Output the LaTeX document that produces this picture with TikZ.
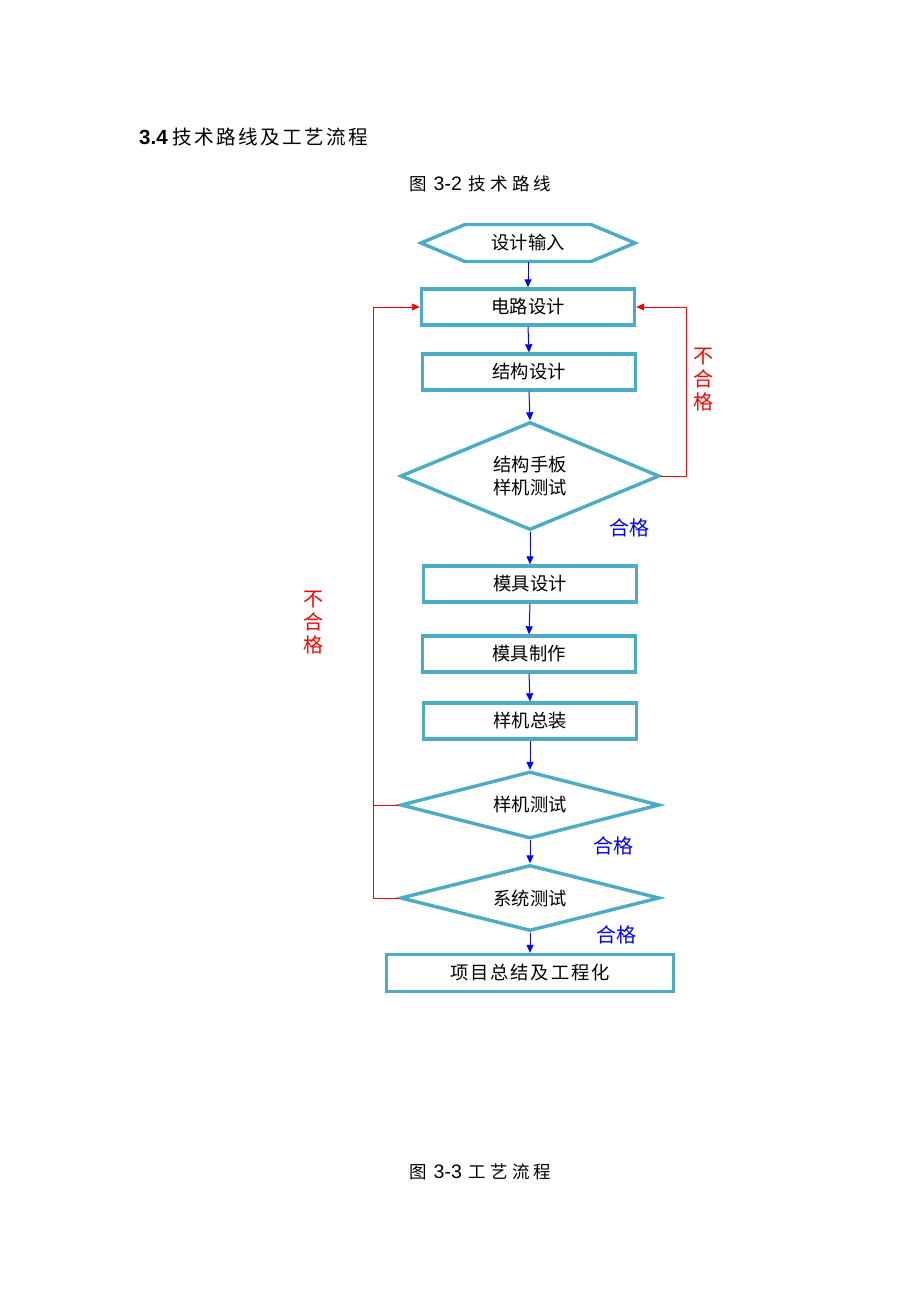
\documentclass[tikz,border=0pt]{standalone}
\usepackage{fontspec}
\setmainfont{Liberation Sans}
\newfontfamily\cjk{Noto Sans CJK SC}
\newfontfamily\cjktitle[LetterSpace=12]{Noto Sans CJK SC}
\newfontfamily\cjkcap[LetterSpace=24]{Noto Sans CJK SC}
\newfontfamily\cjkwide[LetterSpace=10]{Noto Sans CJK SC}
\usetikzlibrary{shapes.geometric,arrows.meta,calc}
\definecolor{tealbox}{RGB}{75,172,198}
\newcommand\mynodefont{\fontsize{18.3}{23}\selectfont\cjk}
\newcommand\mylabelfont{\fontsize{20}{23}\selectfont\cjk}
\begin{document}
\begin{tikzpicture}[x=1pt,y=-1pt,
  box/.style={draw=tealbox,line width=3.4pt,minimum width=213pt,minimum height=36pt,inner sep=0pt,font=\mynodefont},
  hexn/.style={minimum width=214pt,minimum height=37pt,inner sep=0pt,outer sep=0pt,font=\mynodefont},
  hexline/.style={draw=tealbox,line width=3.4pt,line join=miter},
  dia/.style={diamond,draw=tealbox,line width=3.4pt,minimum width=259pt,inner sep=0pt,align=center,font=\mynodefont},
  bluearr/.style={draw=blue,line width=1pt,-{Triangle[length=8pt,width=7pt]}},
  redarr/.style={draw=red,line width=0.9pt,-{Triangle[length=8pt,width=7pt]}},
  redline/.style={draw=red,line width=0.9pt},
  ok/.style={text=blue,font=\mylabelfont,inner sep=0pt},
  ng/.style={text=red,font=\mylabelfont,align=center,inner sep=0pt}
]
\fill[white] (0,0) rectangle (920,1302);
\useasboundingbox (0,0) rectangle (920,1302);

\node[anchor=west,inner sep=0pt] (title) at (139,137) {{\fontsize{20.5}{24}\selectfont\bfseries 3.4}\hspace{5pt}{\fontsize{19.6}{24}\selectfont\cjktitle 技术路线及工艺流程}};
\node[anchor=west,inner sep=0pt] (cap1) at (409,184) {{\fontsize{17.5}{22}\selectfont\cjk 图}\hspace{7pt}{\fontsize{19.5}{22}\selectfont 3-2}\hspace{7pt}{\fontsize{17.5}{22}\selectfont\cjkcap 技术路线}};
\node[anchor=west,inner sep=0pt] (cap2) at (409,1172) {{\fontsize{17.5}{22}\selectfont\cjk 图}\hspace{7pt}{\fontsize{19.5}{22}\selectfont 3-3}\hspace{7pt}{\fontsize{17.5}{22}\selectfont\cjkcap 工艺流程}};

\node[hexn] (in) at (528,243) {设计输入};
\draw[hexline] (in.west) -- ($(in.north west)+(44,0)$) -- ($(in.north east)+(-44,0)$) -- (in.east) -- ($(in.south east)+(-44,0)$) -- ($(in.south west)+(44,0)$) -- cycle;

\node[box] (circ) at (528,307) {电路设计};
\node[box] (struct) at (529,372) {结构设计};
\node[dia,shape aspect=2.4,minimum height=108pt] (d1) at (530,476) {结构手板\\样机测试};
\node[box] (mold) at (530,584) {模具设计};
\node[box] (make) at (529,654) {模具制作};
\node[box] (asm) at (530,721) {样机总装};
\node[dia,shape aspect=3.8,minimum height=67pt] (d2) at (530,805) {样机测试};
\node[dia,shape aspect=3.8,minimum height=66pt] (d3) at (530,898) {系统测试};
\node[box,minimum width=287pt,minimum height=37pt] (fin) at (530,973) {\cjkwide 项目总结及工程化};

\node[ok] (ok1) at (629,528) {合格};
\node[ok] (ok2) at (613,846) {合格};
\node[ok] (ok3) at (616,935) {合格};
\node[ng] (ng1) at (703,380) {不\\合\\格};
\node[ng] (ng2) at (313,623) {不\\合\\格};

\draw[bluearr] (in.south) -- (circ.north);
\draw[bluearr] (circ.south) -- (struct.north);
\draw[bluearr] (struct.south) -- (d1.north);
\draw[bluearr] (d1.south) -- (mold.north);
\draw[bluearr] (mold.south) -- (make.north);
\draw[bluearr] (make.south) -- (asm.north);
\draw[bluearr] (asm.south) -- (d2.north);
\draw[bluearr] (d2.south) -- (d3.north);
\draw[bluearr] (d3.south) -- (fin.north);

\coordinate (rr) at (686,0);
\draw[redarr] (d1.east) -- (d1.east -| rr) |- (circ.east);
\coordinate (ll) at (373,0);
\draw[redarr] (d3.west) -- (d3.west -| ll) |- (circ.west);
\draw[redline] (d2.west) -- (d2.west -| ll);
\end{tikzpicture}
\end{document}
